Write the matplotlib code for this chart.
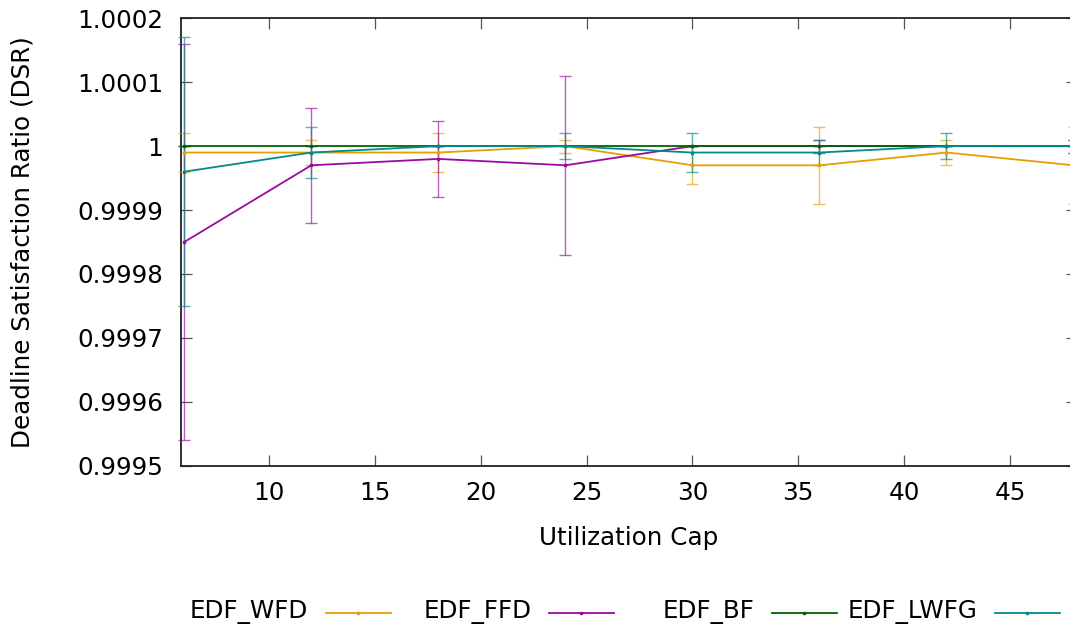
import matplotlib
matplotlib.use("Agg")
import matplotlib.pyplot as plt
from matplotlib.colors import to_rgba
from matplotlib.lines import Line2D

# ---- data ----
utilization_cap = [6, 12, 18, 24, 30, 36, 42, 48]

edf_wfd = [0.99999, 0.99999, 0.99999, 1.00000, 0.99997, 0.99997, 0.99999, 0.99997]
edf_wfd_err = [0.00003, 0.00002, 0.00003, 0.00001, 0.00003, 0.00006, 0.00002, 0.00006]

edf_ffd = [0.99985, 0.99997, 0.99998, 0.99997, 1.00000, 1.00000, 1.00000, 1.00000]
edf_ffd_err = [0.00031, 0.00009, 0.00006, 0.00014, 0.0, 0.00001, 0.0, 0.00001]

edf_bf = [1.0, 1.0, 1.0, 1.0, 1.0, 1.0, 1.0, 1.0]
edf_bf_err = [0.0, 0.0, 0.0, 0.0, 0.0, 0.0, 0.0, 0.0]

edf_lwfg = [0.99996, 0.99999, 1.00000, 1.00000, 0.99999, 0.99999, 1.00000, 1.00000]
edf_lwfg_err = [0.00021, 0.00004, 0.0, 0.00002, 0.00003, 0.00002, 0.00002, 0.00001]

series_names = ["EDF_WFD", "EDF_FFD", "EDF_BF", "EDF_LWFG"]
series_values = [edf_wfd, edf_ffd, edf_bf, edf_lwfg]
series_errors = [edf_wfd_err, edf_ffd_err, edf_bf_err, edf_lwfg_err]
series_colors = ["#e69f00", "#9a0aa0", "#006400", "#008b8b"]

x_ticks = [10, 15, 20, 25, 30, 35, 40, 45]
y_ticks = [0.9995, 0.9996, 0.9997, 0.9998, 0.9999, 1.0, 1.0001, 1.0002]
y_tick_labels = ["0.9995", "0.9996", "0.9997", "0.9998", "0.9999", "1", "1.0001", "1.0002"]

# ---- figure ----
plt.rcParams['font.family'] = ['DejaVu Sans']
FS = 17.7
W, H = 1070, 632
fig = plt.figure(figsize=(W / 100, H / 100), dpi=100)

left_px, right_px, top_px, bottom_px = 181, 1076.8, 18.3, 465.7
ax = fig.add_axes([left_px / W, 1 - bottom_px / H,
                   (right_px - left_px) / W, (bottom_px - top_px) / H])

for name, vals, errs, col in zip(series_names, series_values, series_errors, series_colors):
    ax.errorbar(utilization_cap, vals, yerr=errs, color=col, lw=1.3,
                marker='s', ms=1.6, mec=col, mfc=col,
                ecolor=to_rgba(col, 0.65), elinewidth=1.0, capsize=4.4,
                capthick=1.0, label=name, clip_on=False, zorder=3)

ax.set_xlim(5.845, 48.155)
ax.set_ylim(0.9995, 1.0002)
ax.set_xticks(x_ticks)
ax.set_xticklabels([str(t) for t in x_ticks])
ax.set_yticks(y_ticks)
ax.set_yticklabels(y_tick_labels)

ax.tick_params(axis='both', direction='in', length=8, width=0.9, color='#555555',
               labelsize=FS, top=True, right=True)
ax.tick_params(axis='x', pad=11)
ax.tick_params(axis='y', pad=13)
for sp in ax.spines.values():
    sp.set_linewidth(1.3)
    sp.set_color('#222222')

ax.set_xlabel("Utilization Cap", fontsize=FS)
ax.xaxis.set_label_coords(629 / W, 1 - 538 / H, transform=fig.transFigure)
ax.xaxis.label.set_va('center')
ax.set_ylabel("Deadline Satisfaction Ratio (DSR)", fontsize=FS)
ax.yaxis.set_label_coords(23 / W, 1 - 242 / H, transform=fig.transFigure)
ax.yaxis.label.set_va('center')

# ---- legend (gnuplot style: right-justified text, sample to the right) ----
text_right = [308.5, 531.5, 754.5, 977.5]
leg_y = 1 - 612.5 / H
for name, col, tr in zip(series_names, series_colors, text_right):
    fig.text(tr / W, leg_y, name, ha='right', va='center', fontsize=FS)
    x0, x1 = (tr + 17.5) / W, (tr + 82) / W
    fig.add_artist(Line2D([x0, x1], [leg_y, leg_y], color=col, lw=1.3,
                          transform=fig.transFigure))
    fig.add_artist(Line2D([(x0 + x1) / 2], [leg_y], color=col, marker='s', ms=1.6,
                          transform=fig.transFigure))

fig.savefig("out.png", dpi=100)
